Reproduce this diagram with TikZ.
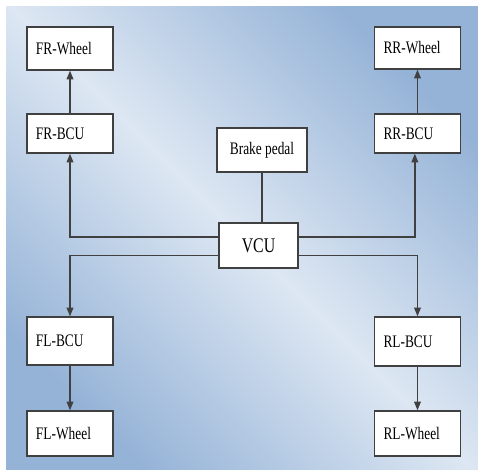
\documentclass[tikz,border=0pt]{standalone}
\usepackage{fontspec}
\setmainfont{Liberation Serif}[FakeStretch=0.76]
\usetikzlibrary{arrows.meta}

\definecolor{bgdark}{RGB}{149,179,215}
\definecolor{bglight}{RGB}{221,231,243}
\definecolor{linegray}{RGB}{64,64,64}

\tikzset{every picture/.style={line width=1pt}}
\tikzset{
  unitbox/.style={draw=linegray, fill=white, inner xsep=6.75pt, inner ysep=0pt,
    text width=51pt, align=left, font=\fontsize{13.2}{15}\selectfont},
  ctrlbox/.style={draw=linegray, fill=white, inner sep=0pt, align=center},
  link/.style={draw=linegray},
  arr/.style={link, -{Triangle[length=6.5pt,width=5pt]}}
}

\begin{document}
\begin{tikzpicture}[x=0.75pt,y=0.75pt,yscale=-1,xscale=1]
\useasboundingbox (0,0) rectangle (478,470);

%Shape: Background
\shade [top color=bgdark, bottom color=bgdark, middle color=bglight, shading angle=-45] (6,7) rectangle (478,470);

%Shape: Wheels and brake control units
\node [unitbox, minimum height=32.25pt] (frwheel) at (70,48.5) {FR-Wheel};
\node [unitbox, minimum height=29.25pt] (frbcu) at (70,133.5) {FR-BCU};
\node [unitbox, minimum height=31.5pt] (rrwheel) at (417.5,48) {RR-Wheel};
\node [unitbox, minimum height=29.25pt] (rrbcu) at (417.5,133.5) {RR-BCU};
\node [unitbox, minimum height=36pt] (flbcu) at (70,341) {FL-BCU};
\node [unitbox, minimum height=33.75pt] (flwheel) at (70,433.5) {FL-Wheel};
\node [unitbox, minimum height=36.75pt] (rlbcu) at (417.5,341.5) {RL-BCU};
\node [unitbox, minimum height=33.75pt] (rlwheel) at (417.5,433.5) {RL-Wheel};

%Shape: Pedal and vehicle control unit
\node [ctrlbox, minimum width=67.5pt, minimum height=33pt, font=\fontsize{13.2}{15}\selectfont] (pedal) at (262,150) {Brake pedal};
\node [ctrlbox, minimum width=59.25pt, minimum height=33.75pt, font=\fontsize{15.6}{18}\selectfont] (vcu) at (258.5,245.5) {VCU};

%Straight Lines
\draw [link] (pedal.south) -- (pedal.south |- vcu.north);
\draw [arr] ([yshift=-6.4pt]vcu.west) -| (frbcu.south);
\draw [arr] ([yshift=7.6pt]vcu.west) -| (flbcu.north);
\draw [arr] ([yshift=-6.4pt]vcu.east) -| ([xshift=-2pt]rrbcu.south);
\draw [arr] ([yshift=7.6pt]vcu.east) -| (rlbcu.north);
\draw [arr] (frbcu) -- (frwheel);
\draw [arr] (rrbcu) -- (rrwheel);
\draw [arr] (flbcu) -- (flwheel);
\draw [arr] (rlbcu) -- (rlwheel);

\end{tikzpicture}
\end{document}
